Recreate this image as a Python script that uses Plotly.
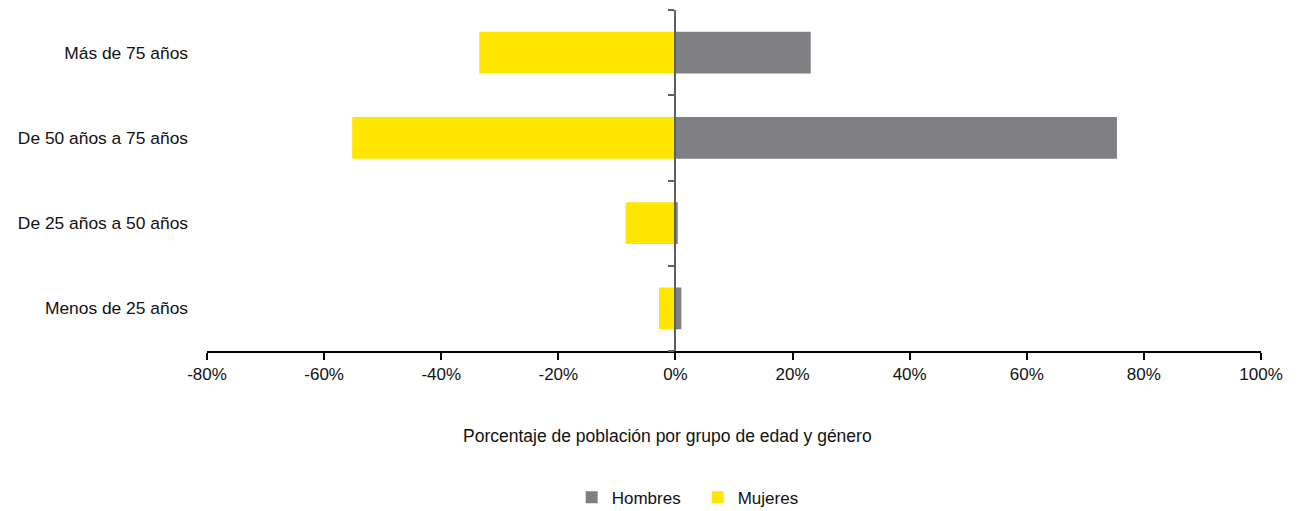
import plotly.graph_objects as go

# Age groups (bottom to top) and share of population by gender, in percent
grupos = ["Menos de 25 años", "De 25 años a 50 años", "De 50 años a 75 años", "Más de 75 años"]
hombres = [1.0, 0.4, 75.4, 23.1]
mujeres = [-2.8, -8.5, -55.2, -33.5]

x_ticks = [-80, -60, -40, -20, 0, 20, 40, 60, 80, 100]
x_tick_labels = ["-80%", "-60%", "-40%", "-20%", "0%", "20%", "40%", "60%", "80%", "100%"]

titulo_x = "Porcentaje de población por grupo de edad y género"

GRIS = "#807F83"
AMARILLO = "#FFE500"
FONT = "Liberation Sans, Arial, sans-serif"
TXT = "#111111"

fig = go.Figure()
fig.add_trace(go.Bar(
    y=grupos, x=hombres, name="Hombres", orientation="h",
    marker=dict(color=GRIS, line=dict(width=0)), width=0.49,
))
fig.add_trace(go.Bar(
    y=grupos, x=mujeres, name="Mujeres", orientation="h",
    marker=dict(color=AMARILLO, line=dict(width=0)), width=0.49,
))
# helper trace so the zero-line category axis is rendered
fig.add_trace(go.Scatter(
    y=grupos, x=[0] * len(grupos), yaxis="y2", mode="markers",
    marker=dict(opacity=0), showlegend=False, hoverinfo="skip",
))

x_min, x_max = x_ticks[0], x_ticks[-1]
zero_pos = (0 - x_min) / (x_max - x_min)

fig.update_layout(
    width=1301, height=511,
    margin=dict(l=207, r=40, t=10, b=160, autoexpand=False),
    paper_bgcolor="white", plot_bgcolor="white",
    barmode="relative",
    font=dict(family=FONT, size=17, color=TXT),
    xaxis=dict(
        range=[x_min, x_max], tickvals=x_ticks, ticktext=x_tick_labels,
        showgrid=False, zeroline=False, automargin=False,
        showline=True, linecolor="black", linewidth=2,
        ticks="outside", ticklen=7, tickwidth=2, tickcolor="black",
        tickfont=dict(size=17, family=FONT, color=TXT),
        fixedrange=True,
    ),
    yaxis=dict(
        categoryorder="array", categoryarray=grupos, automargin=False,
        showgrid=False, zeroline=False, showline=False, ticks="",
        ticklabelstandoff=18,
        tickfont=dict(size=17.4, family=FONT, color=TXT),
    ),
    yaxis2=dict(
        overlaying="y", anchor="free", position=zero_pos,
        categoryorder="array", categoryarray=grupos,
        showgrid=False, zeroline=False, showticklabels=False,
        showline=True, linecolor="#5f5f5f", linewidth=2,
        ticks="outside", tickson="boundaries", ticklen=6, tickwidth=2, tickcolor="#5f5f5f",
        matches="y",
    ),
    annotations=[dict(
        text=titulo_x, xref="paper", yref="paper", x=0.437, y=-0.25,
        xanchor="center", yanchor="middle", showarrow=False,
        font=dict(size=17.5, family=FONT, color=TXT),
    )],
    legend=dict(
        orientation="h", x=0.346, xanchor="left", y=-0.43, yanchor="middle",
        font=dict(size=17, family=FONT, color=TXT),
        itemwidth=30, traceorder="normal",
        entrywidth=81, entrywidthmode="pixels",
    ),
    showlegend=True,
)

fig.write_html("out.html")
